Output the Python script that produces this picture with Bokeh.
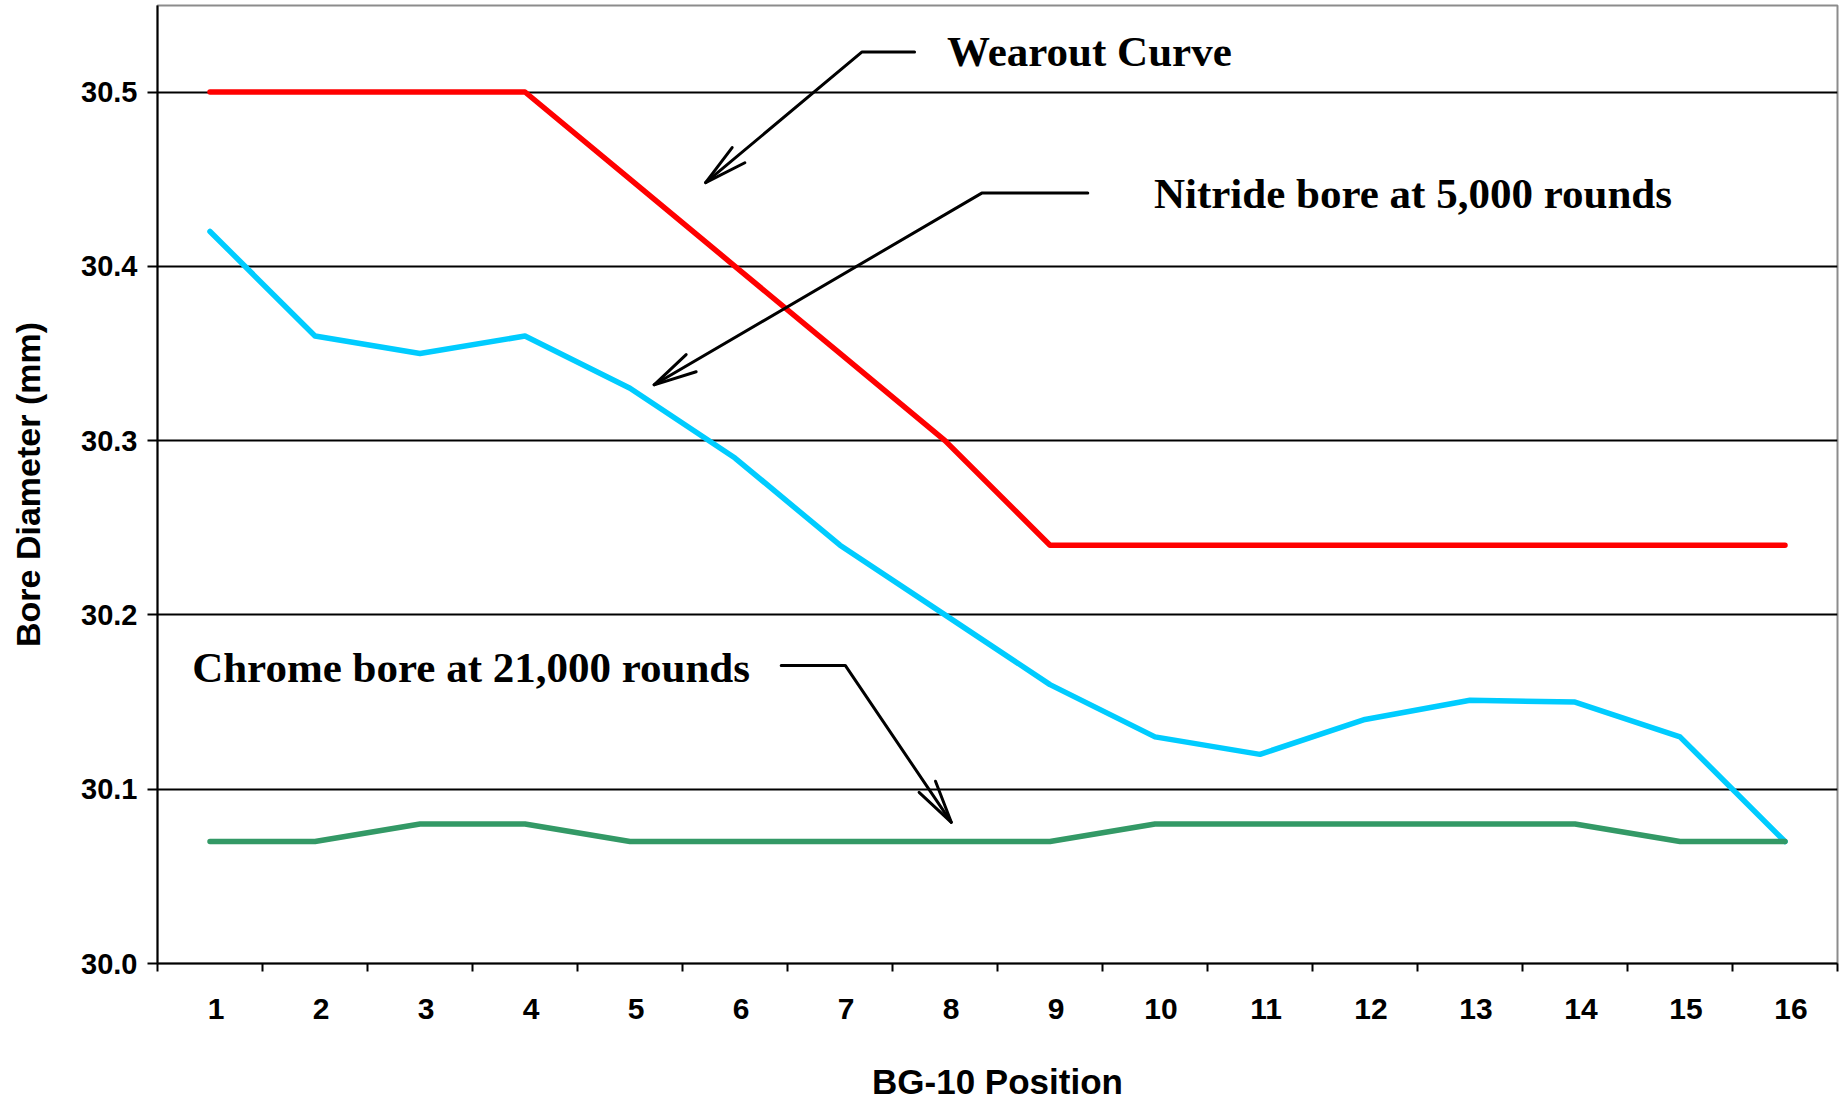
import numpy as np
from bokeh.plotting import figure
from bokeh.models import FixedTicker, NumeralTickFormatter, Label, Range1d
from bokeh.embed import file_html
from bokeh.resources import INLINE

# ---------------- data ----------------
positions = list(range(1, 17))
wearout = [30.50, 30.50, 30.50, 30.50, 30.45, 30.40, 30.35, 30.30,
           30.24, 30.24, 30.24, 30.24, 30.24, 30.24, 30.24, 30.24]
nitride = [30.42, 30.36, 30.35, 30.36, 30.33, 30.29, 30.24, 30.20,
           30.16, 30.13, 30.12, 30.14, 30.151, 30.15, 30.13, 30.07]
chrome = [30.07, 30.07, 30.08, 30.08, 30.07, 30.07, 30.07, 30.07,
          30.07, 30.08, 30.08, 30.08, 30.08, 30.08, 30.07, 30.07]
y_ticks = [30.0, 30.1, 30.2, 30.3, 30.4, 30.5]

# annotations (data coordinates)
ann_text = ["Wearout Curve", "Nitride bore at 5,000 rounds", "Chrome bore at 21,000 rounds"]
ann_text_x = [8.02, 9.99, 0.83]
ann_text_y = [30.523, 30.442, 30.170]
arrow_start_x = [7.71, 9.36, 6.44]
arrow_start_y = [30.523, 30.442, 30.171]
arrow_elbow_x = [7.21, 8.35, 7.05]
arrow_elbow_y = [30.523, 30.442, 30.171]
arrow_tip_x = [5.72, 5.23, 8.06]
arrow_tip_y = [30.448, 30.332, 30.081]

# ---------------- layout ----------------
W, H = 1843, 1103
frame_left = 157
frame_right_pad = 6
frame_top = 5
frame_bottom = 963
frame_w = W - frame_left - frame_right_pad
frame_h = frame_bottom - frame_top
y0, y1 = 30.0, 30.0 + frame_h / 1743.0
x0, x1 = 0.5, 16.5
px_x = frame_w / (x1 - x0)
px_y = frame_h / (y1 - y0)
label_shift = 6.0 / px_x   # tick labels sit slightly right of the category centre

p = figure(width=W, height=H, output_backend="svg", toolbar_location=None,
           x_range=Range1d(x0, x1), y_range=Range1d(y0, y1),
           min_border_left=frame_left, min_border_right=frame_right_pad,
           min_border_top=frame_top, min_border_bottom=H - frame_bottom)
p.background_fill_color = "white"
p.border_fill_color = "white"
p.outline_line_color = "#8c8c8c"
p.outline_line_width = 2

# axes
xa = p.xaxis[0]
xa.ticker = FixedTicker(ticks=[v + label_shift for v in positions],
                        minor_ticks=[i + 0.5 for i in range(0, 17)])
xa.major_label_overrides = {v + label_shift: str(v) for v in positions}
xa.major_tick_out = 0
xa.major_tick_in = 0
xa.minor_tick_out = 8
xa.minor_tick_in = 0
xa.minor_tick_line_color = "black"
xa.minor_tick_line_width = 2
xa.axis_line_color = "black"
xa.axis_line_width = 2
xa.major_label_text_font = "Liberation Sans"
xa.major_label_text_font_style = "bold"
xa.major_label_text_font_size = "30px"
xa.major_label_text_color = "black"
xa.major_label_standoff = 27
xa.axis_label = "BG-10 Position"
xa.axis_label_text_font = "Liberation Sans"
xa.axis_label_text_font_style = "bold"
xa.axis_label_text_font_size = "35px"
xa.axis_label_text_color = "black"
xa.axis_label_standoff = 40

ya = p.yaxis[0]
ya.ticker = FixedTicker(ticks=y_ticks, minor_ticks=[])
ya.formatter = NumeralTickFormatter(format="0.0")
ya.major_tick_out = 10
ya.major_tick_in = 0
ya.major_tick_line_color = "black"
ya.major_tick_line_width = 2
ya.minor_tick_out = 0
ya.minor_tick_in = 0
ya.axis_line_color = "black"
ya.axis_line_width = 2
ya.major_label_text_font = "Liberation Sans"
ya.major_label_text_font_style = "bold"
ya.major_label_text_font_size = "29px"
ya.major_label_text_color = "black"
ya.major_label_standoff = 10
ya.axis_label = "Bore Diameter (mm)"
ya.axis_label_text_font = "Liberation Sans"
ya.axis_label_text_font_style = "bold"
ya.axis_label_text_font_size = "34px"
ya.axis_label_text_color = "black"
ya.axis_label_standoff = 31

p.xgrid.grid_line_color = None
p.ygrid.grid_line_color = "black"
p.ygrid.grid_line_width = 2

# series
p.line(positions, wearout, line_color="#ff0000", line_width=5.5, line_cap="round", line_join="round")
p.line(positions, nitride, line_color="#00ccff", line_width=5.5, line_cap="round", line_join="round")
p.line(positions, chrome, line_color="#339966", line_width=5.5, line_cap="round", line_join="round")

# annotations
for i in range(3):
    p.add_layout(Label(x=ann_text_x[i], y=ann_text_y[i], text=ann_text[i], text_align="left",
                       text_baseline="middle", text_font="Liberation Serif",
                       text_font_style="bold", text_font_size="43px", text_color="black"))
    xs = [arrow_start_x[i], arrow_elbow_x[i], arrow_tip_x[i]]
    ys = [arrow_start_y[i], arrow_elbow_y[i], arrow_tip_y[i]]
    p.line(xs, ys, line_color="black", line_width=3, line_cap="round", line_join="round")
    # open arrow head
    dx = (arrow_elbow_x[i] - arrow_tip_x[i]) * px_x
    dy = (arrow_elbow_y[i] - arrow_tip_y[i]) * px_y
    n = np.hypot(dx, dy)
    ux, uy = dx / n, dy / n
    L, ang = 44.0, np.radians(13)
    bx, by = [], []
    for s in (1, -1):
        c, sn = np.cos(s * ang), np.sin(s * ang)
        rx, ry = ux * c - uy * sn, ux * sn + uy * c
        bx.append(arrow_tip_x[i] + L * rx / px_x)
        by.append(arrow_tip_y[i] + L * ry / px_y)
    p.line([bx[0], arrow_tip_x[i], bx[1]], [by[0], arrow_tip_y[i], by[1]],
           line_color="black", line_width=3, line_cap="round", line_join="round")

open("out.html", "w").write(file_html(p, INLINE))
